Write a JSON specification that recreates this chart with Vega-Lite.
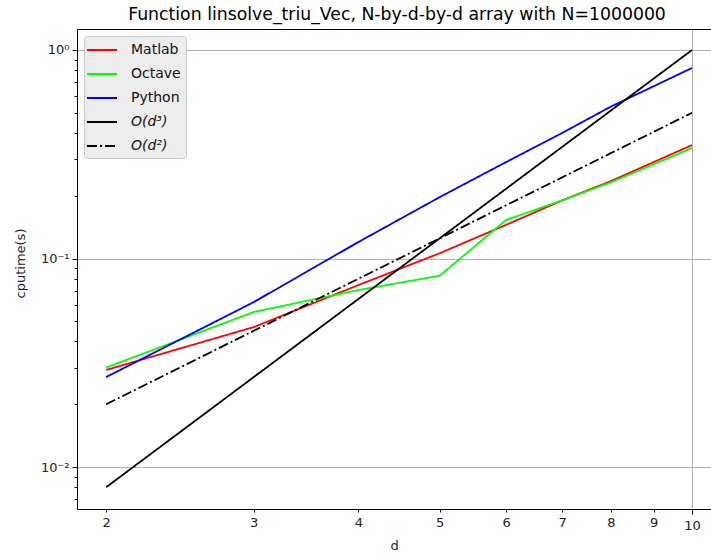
{
  "$schema": "https://vega.github.io/schema/vega-lite/v6.json",
  "autosize": "none",
  "width": 634,
  "height": 480,
  "padding": {"left": 77, "top": 29, "right": 0, "bottom": 49},
  "background": "white",
  "title": {
    "text": "Function linsolve_triu_Vec, N-by-d-by-d array with N=1000000",
    "font": "DejaVu Sans",
    "fontSize": 17.3,
    "fontWeight": "normal",
    "color": "#000000",
    "anchor": "middle",
    "dx": 3,
    "offset": 6
  },
  "config": {
    "font": "DejaVu Sans",
    "view": {"stroke": null},
    "axis": {
      "labelFont": "DejaVu Sans",
      "titleFont": "DejaVu Sans",
      "labelFontSize": 13,
      "titleFontSize": 13,
      "titleFontWeight": "normal",
      "labelColor": "#222222",
      "titleColor": "#222222",
      "domainColor": "#000000",
      "tickColor": "#000000",
      "gridColor": "#b0b0b0",
      "gridWidth": 1
    }
  },
  "data": {
    "values": [
      {"series": "Matlab", "d": 2, "t": 0.0292},
      {"series": "Matlab", "d": 3, "t": 0.0469},
      {"series": "Matlab", "d": 4, "t": 0.0746},
      {"series": "Matlab", "d": 5, "t": 0.106},
      {"series": "Matlab", "d": 6, "t": 0.145},
      {"series": "Matlab", "d": 7, "t": 0.19},
      {"series": "Matlab", "d": 8, "t": 0.235},
      {"series": "Matlab", "d": 9, "t": 0.29},
      {"series": "Matlab", "d": 10, "t": 0.35},
      {"series": "Octave", "d": 2, "t": 0.030},
      {"series": "Octave", "d": 3, "t": 0.0554},
      {"series": "Octave", "d": 4, "t": 0.0706},
      {"series": "Octave", "d": 5, "t": 0.0827},
      {"series": "Octave", "d": 6, "t": 0.153},
      {"series": "Octave", "d": 7, "t": 0.19},
      {"series": "Octave", "d": 8, "t": 0.232},
      {"series": "Octave", "d": 9, "t": 0.283},
      {"series": "Octave", "d": 10, "t": 0.339},
      {"series": "Python", "d": 2, "t": 0.027},
      {"series": "Python", "d": 3, "t": 0.0618},
      {"series": "Python", "d": 4, "t": 0.12},
      {"series": "Python", "d": 5, "t": 0.197},
      {"series": "Python", "d": 6, "t": 0.29},
      {"series": "Python", "d": 7, "t": 0.40},
      {"series": "Python", "d": 8, "t": 0.535},
      {"series": "Python", "d": 9, "t": 0.67},
      {"series": "Python", "d": 10, "t": 0.82},
      {"series": "O(d³)", "d": 2, "t": 0.008},
      {"series": "O(d³)", "d": 3, "t": 0.027},
      {"series": "O(d³)", "d": 4, "t": 0.064},
      {"series": "O(d³)", "d": 5, "t": 0.125},
      {"series": "O(d³)", "d": 6, "t": 0.216},
      {"series": "O(d³)", "d": 7, "t": 0.343},
      {"series": "O(d³)", "d": 8, "t": 0.512},
      {"series": "O(d³)", "d": 9, "t": 0.729},
      {"series": "O(d³)", "d": 10, "t": 1.0},
      {"series": "O(d²)", "d": 2, "t": 0.02},
      {"series": "O(d²)", "d": 3, "t": 0.045},
      {"series": "O(d²)", "d": 4, "t": 0.08},
      {"series": "O(d²)", "d": 5, "t": 0.125},
      {"series": "O(d²)", "d": 6, "t": 0.18},
      {"series": "O(d²)", "d": 7, "t": 0.245},
      {"series": "O(d²)", "d": 8, "t": 0.32},
      {"series": "O(d²)", "d": 9, "t": 0.405},
      {"series": "O(d²)", "d": 10, "t": 0.5}
    ]
  },
  "resolve": {"axis": {"x": "independent", "y": "independent"}},
  "layer": [
    {
      "mark": {"type": "rule", "opacity": 0},
      "encoding": {
        "x": {
          "field": "d", "type": "quantitative",
          "scale": {"type": "log", "domain": [1.846, 10.535], "nice": false, "zero": false},
          "axis": {"orient": "top", "values": [], "ticks": false, "labels": false, "grid": false, "title": null, "domain": true}
        },
        "y": {
          "field": "t", "type": "quantitative",
          "scale": {"type": "log", "domain": [0.00629, 1.261], "nice": false, "zero": false},
          "axis": {
            "orient": "left",
            "values": [0.007, 0.008, 0.009, 0.02, 0.03, 0.04, 0.05, 0.06, 0.07, 0.08, 0.09, 0.2, 0.3, 0.4, 0.5, 0.6, 0.7, 0.8, 0.9],
            "labels": false, "grid": false, "tickSize": 3, "tickWidth": 1, "domain": false, "title": null
          }
        }
      }
    },
    {
      "mark": {"type": "line", "strokeWidth": 1.8, "clip": true},
      "encoding": {
        "x": {
          "field": "d", "type": "quantitative",
          "scale": {"type": "log", "domain": [1.846, 10.535], "nice": false, "zero": false},
          "axis": {"orient": "bottom", "values": [10], "grid": true, "tickSize": 5, "labelPadding": 5, "title": null, "domain": true}
        },
        "y": {
          "field": "t", "type": "quantitative",
          "scale": {"type": "log", "domain": [0.00629, 1.261], "nice": false, "zero": false},
          "axis": {
            "orient": "left",
            "values": [0.01, 0.1, 1],
            "grid": true, "tickSize": 5, "labelPadding": 3, "domain": true,
            "labelExpr": "datum.value >= 1 ? '10⁰' : (datum.value >= 0.1 ? '10⁻¹' : '10⁻²')",
            "title": "cputime(s)",
            "titleX": -57, "titleY": 234, "titleAngle": -90, "titleAlign": "center", "titleBaseline": "middle"
          }
        },
        "color": {
          "field": "series", "type": "nominal", "title": null,
          "scale": {
            "domain": ["Matlab", "Octave", "Python", "O(d³)", "O(d²)"],
            "range": ["#ff0000", "#00ff00", "#0000ff", "#000000", "#000000"]
          },
          "legend": {
            "orient": "none", "legendX": 7, "legendY": 7,
            "symbolType": "M-1.375,0H2.375", "symbolSize": 256, "symbolStrokeWidth": 2,
            "labelFont": "DejaVu Sans", "labelFontSize": 14, "labelColor": "#111111", "labelOffset": 24,
            "rowPadding": 8, "padding": 5,
            "fillColor": "#ededed", "strokeColor": "#c8c8c8", "cornerRadius": 3,
            "encode": {"labels": {"update": {"fontStyle": {"signal": "indexof(datum.label, 'O(') >= 0 ? 'italic' : 'normal'"}}}}
          }
        },
        "strokeDash": {
          "field": "series", "type": "nominal", "title": null,
          "scale": {
            "domain": ["Matlab", "Octave", "Python", "O(d³)", "O(d²)"],
            "range": [[1, 0], [1, 0], [1, 0], [1, 0], [10, 3, 2, 3]]
          }
        },
        "order": {"field": "d", "type": "quantitative"}
      }
    },
    {
      "mark": {"type": "rule", "opacity": 0},
      "encoding": {
        "x": {
          "field": "d", "type": "quantitative",
          "scale": {"type": "log", "domain": [1.846, 10.535], "nice": false, "zero": false},
          "axis": {"orient": "bottom", "values": [2, 3, 4, 5, 6, 7, 8, 9], "grid": false, "tickSize": 3, "labelPadding": 4, "domain": false,
                   "title": "d", "titlePadding": 10, "labelFlush": false}
        }
      }
    }
  ]
}
